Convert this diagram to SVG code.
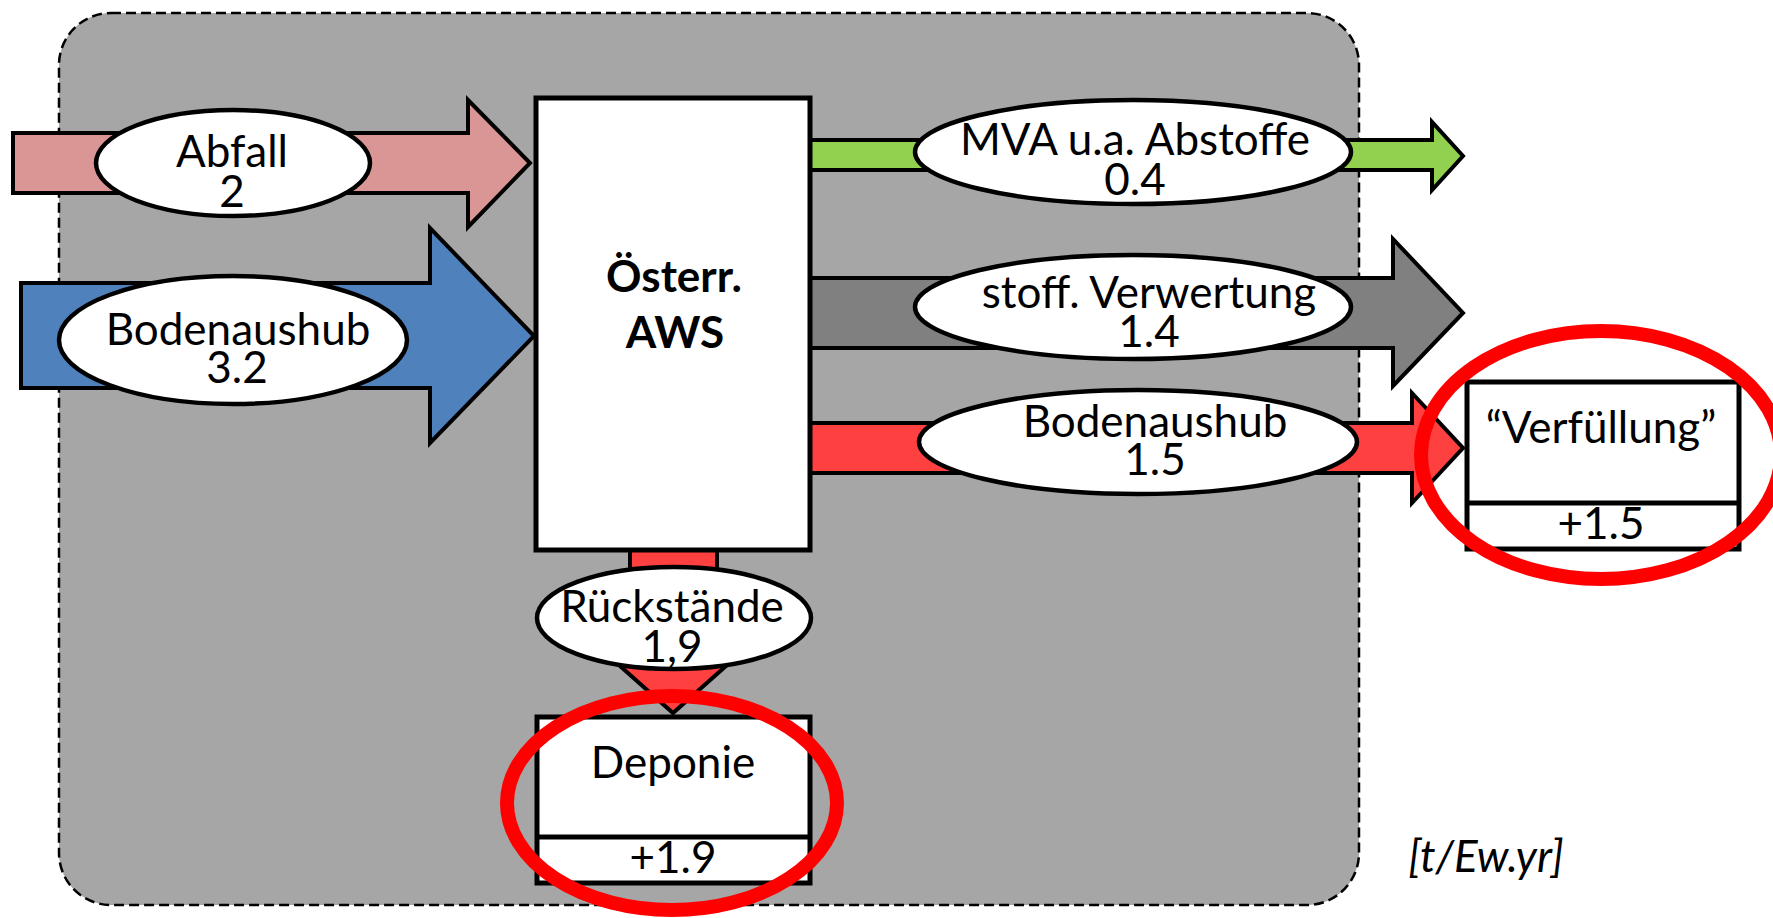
<svg xmlns="http://www.w3.org/2000/svg" width="1773" height="918" viewBox="0 0 1773 918">
<style>
.t{font-family:Lato,"Liberation Sans",sans-serif;font-size:44px;fill:#000;text-anchor:middle}
.b{font-weight:bold}
.arr{stroke:#000;stroke-width:4;stroke-linejoin:miter}
.lab{fill:#fff;stroke:#000;stroke-width:4.5}
.box{fill:#fff;stroke:#000;stroke-width:5}
.ring{fill:none;stroke:#ff0000;stroke-width:14}
</style>
<rect width="1773" height="918" fill="#fff"/>
<g id="system">
<rect x="59" y="13" width="1300" height="892" rx="52" ry="52" fill="#a6a6a6" stroke="#000" stroke-width="2.5" stroke-dasharray="10 5"/>
</g>
<g id="connectors">
<polygon class="arr" fill="#d99694" points="13,133 468,133 468,100 530,163 468,227 468,193 13,193"/>
<polygon class="arr" fill="#4f81bd" points="21,283 430,283 430,228 534,336 430,443 430,388 21,388"/>
<polygon class="arr" fill="#92d050" points="810,140 1432,140 1432,122 1463,156 1432,190 1432,170 810,170"/>
<polygon class="arr" fill="#808080" points="810,278 1393,278 1393,239 1463,313 1393,386 1393,348 810,348"/>
<polygon class="arr" fill="#ff4040" points="810,423 1412,423 1412,393 1463,448 1412,503 1412,473 810,473"/>
<polygon class="arr" fill="#ff4040" points="630,550 717,550 717,642 753,642 673,713 593,642 630,642"/>
</g>
<g id="aws">
<rect class="box" x="536" y="98" width="274" height="452"/>
<text class="t b" x="674" y="292">Österr.</text>
<text class="t b" x="675" y="348">AWS</text>
</g>
<g id="label-abfall">
<ellipse class="lab" cx="233" cy="163" rx="137" ry="53"/>
<text class="t" x="232" y="167">Abfall</text>
<text class="t" x="232" y="207">2</text>
</g>
<g id="label-bodenaushub-in">
<ellipse class="lab" cx="233" cy="340" rx="174" ry="64"/>
<text class="t" x="238" y="345">Bodenaushub</text>
<text class="t" x="237" y="383">3.2</text>
</g>
<g id="label-mva">
<ellipse class="lab" cx="1133" cy="152" rx="218" ry="52"/>
<text class="t" x="1135" y="155">MVA u.a. Abstoffe</text>
<text class="t" x="1135" y="195">0.4</text>
</g>
<g id="label-stoff">
<ellipse class="lab" cx="1133" cy="307" rx="218" ry="52"/>
<text class="t" x="1149" y="308">stoff. Verwertung</text>
<text class="t" x="1149" y="347">1.4</text>
</g>
<g id="label-bodenaushub-out">
<ellipse class="lab" cx="1138" cy="442" rx="219" ry="52"/>
<text class="t" x="1155" y="437">Bodenaushub</text>
<text class="t" x="1155" y="475">1.5</text>
</g>
<g id="label-rueckstaende">
<ellipse class="lab" cx="674" cy="618" rx="137" ry="51"/>
<text class="t" x="672" y="622">Rückstände</text>
<text class="t" x="672" y="662">1,9</text>
</g>
<g id="deponie">
<rect class="box" x="537" y="717" width="273" height="166"/>
<line x1="537" y1="837" x2="810" y2="837" stroke="#000" stroke-width="5"/>
<text class="t" x="673" y="778">Deponie</text>
<text class="t" x="673" y="873">+1.9</text>
</g>
<g id="verfuellung">
<rect class="box" x="1467" y="382" width="272" height="167"/>
<line x1="1467" y1="503" x2="1739" y2="503" stroke="#000" stroke-width="5"/>
<text class="t" x="1601" y="443">“Verfüllung”</text>
<text class="t" x="1601" y="539">+1.5</text>
</g>
<g id="highlights">
<ellipse class="ring" cx="672" cy="803" rx="165" ry="107"/>
<ellipse class="ring" cx="1601" cy="455" rx="180" ry="124"/>
</g>
<g id="unit">
<text class="t" x="1486" y="872" font-style="italic">[t/Ew.yr]</text>
</g>
</svg>
